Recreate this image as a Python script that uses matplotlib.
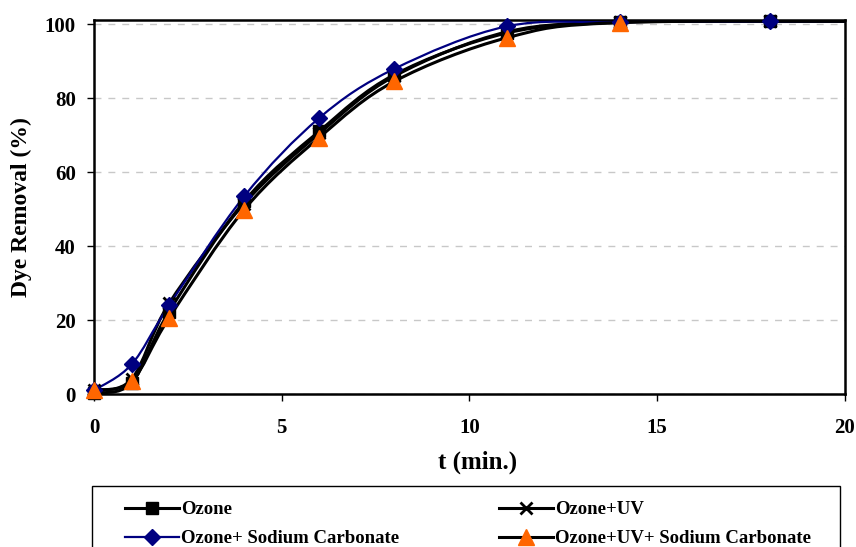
import numpy as np
import matplotlib
matplotlib.use('Agg')
import matplotlib.pyplot as plt
from matplotlib.path import Path
from matplotlib.patches import PathPatch, Rectangle
from matplotlib.lines import Line2D

plt.rcParams['font.family'] = ['Liberation Serif', 'DejaVu Serif']
plt.rcParams['font.weight'] = 'bold'

# time (min.), the last value sits past the axis so the line runs to the edge
t_ozone = [0, 1, 2, 4, 6, 8, 11, 14, 18, 22]
ozone = [0.3, 3.0, 22.3, 52.1, 71.1, 86.4, 97.7, 100.6, 100.8, 100.8]

t_ozone_uv = [0, 1, 2, 4, 6, 8, 11, 14, 18, 22]
ozone_uv = [1.0, 4.0, 24.5, 51.5, 70.5, 86.0, 98.0, 100.6, 100.8, 100.8]

t_ozone_sc = [0, 1, 2, 4, 6, 8, 11, 14, 18, 22]
ozone_sc = [1.0, 8.0, 24.0, 53.5, 74.7, 88.0, 99.5, 100.6, 100.8, 100.8]

t_ozone_uv_sc = [0, 1, 2, 4, 6, 8, 11, 14, 22]
ozone_uv_sc = [1.1, 3.5, 20.6, 49.9, 69.4, 84.6, 96.4, 100.5, 100.8]

labels = ['Ozone', 'Ozone+UV', 'Ozone+ Sodium Carbonate',
          'Ozone+UV+ Sodium Carbonate']


def smooth_path(x, y):
    """Excel style smoothed line as cubic bezier segments."""
    p = np.column_stack([x, y]).astype(float)
    n = len(p)
    verts = [p[0]]
    codes = [Path.MOVETO]
    for i in range(n - 1):
        p0 = p[i - 1] if i > 0 else p[i]
        p3 = p[i + 2] if i + 2 < n else p[i + 1]
        c1 = p[i] + (p[i + 1] - p0) / 6
        c2 = p[i + 1] - (p3 - p[i]) / 6
        verts += [c1, c2, p[i + 1]]
        codes += [Path.CURVE4] * 3
    return Path(verts, codes)


fig = plt.figure(figsize=(8.56, 5.47), dpi=100)
ax = fig.add_axes([0.1098, 0.2797, 0.8773, 0.6837])

series = [
    (t_ozone, ozone, 'black', 2.2, 's', 9, 'black'),
    (t_ozone_uv, ozone_uv, 'black', 2.2, 'x', 9, 'black'),
    (t_ozone_sc, ozone_sc, '#000080', 1.6, 'D', 8.5, '#000080'),
    (t_ozone_uv_sc, ozone_uv_sc, 'black', 2.2, '^', 11, '#FF6600'),
]

handles = []
for (x, y, color, lw, marker, ms, mcolor), label in zip(series, labels):
    ax.add_patch(PathPatch(smooth_path(x, y), facecolor='none',
                           edgecolor=color, lw=lw, zorder=3))
    x = np.asarray(x)
    y = np.asarray(y)
    inside = x <= 20
    mew = 2 if marker == 'x' else 1
    ax.plot(x[inside], y[inside], ls='none', marker=marker, ms=ms,
            color=mcolor, mec=mcolor, mew=mew, zorder=4, clip_on=False)
    handles.append(Line2D([], [], color=color, lw=lw, marker=marker,
                          ms=ms, mfc=mcolor, mec=mcolor, mew=mew,
                          label=label))

ax.set_xlim(0, 20)
ax.set_ylim(0, 101.2)
ax.set_xticks([0, 5, 10, 15, 20])
ax.set_yticks([0, 20, 40, 60, 80, 100])
ax.yaxis.grid(True, ls=(0, (5, 5)), color='#c8c8c8', lw=1)
ax.set_axisbelow(True)
ax.tick_params(direction='out', length=5, width=1, labelsize=15)
ax.tick_params(axis='x', pad=12)
ax.tick_params(axis='y', pad=8)
for s in ax.spines.values():
    s.set_linewidth(1.8)

ax.set_xlabel('t (min.)', fontsize=18, fontweight='bold')
ax.set_ylabel('Dye Removal (%)', fontsize=17, fontweight='bold')
ax.xaxis.set_label_coords(0.511, -0.15)
ax.yaxis.set_label_coords(-0.083, 0.5)

# legend box runs off the bottom of the picture
fig.patches.append(Rectangle((0.1075, -0.05), 0.874, 0.1615,
                             transform=fig.transFigure, fill=False,
                             edgecolor='black', lw=1))
order = [0, 2, 1, 3]
fig.legend(handles=[handles[i] for i in order], ncol=2, loc='upper left',
           bbox_to_anchor=(0.146, 0.084), frameon=False,
           fontsize=13.5, handlelength=2.9, handletextpad=0.1,
           borderaxespad=0, borderpad=0, labelspacing=0.65,
           columnspacing=5.3)

fig.savefig('out.png', dpi=100)
